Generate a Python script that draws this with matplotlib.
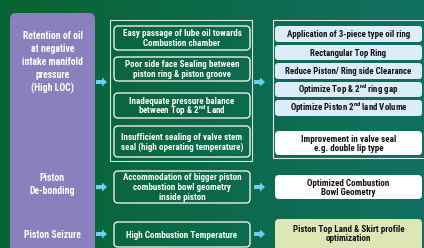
import numpy as np
import matplotlib
matplotlib.use("Agg")
import matplotlib.pyplot as plt
from matplotlib.patches import FancyBboxPatch, Rectangle, FancyArrow

FONT = ['Roboto Condensed', 'Barlow Semi Condensed', 'DejaVu Sans']
plt.rcParams['font.family'] = FONT
plt.rcParams['mathtext.fontset'] = 'custom'
plt.rcParams['mathtext.rm'] = 'Roboto Condensed:bold'

SUP = r'$^{\mathregular{nd}}$'

# failure modes (left column)
problems = ["Retention of oil\nat negative\nintake manifold\npressure\n(High LOC)",
            "Piston\nDe-bonding",
            "Piston Seizure"]
problem_y = [62, 184, 235]

# root causes (middle column)
causes = ["Easy passage of lube oil towards\nCombustion chamber",
          "Poor side face Sealing between\npiston ring & piston groove",
          "Inadequate pressure balance\nbetween Top & 2" + SUP + " Land",
          "Insufficient sealing of valve stem\nseal (high operating temperature)",
          "Accommodation of bigger piston\ncombustion bowl geometry\ninside piston",
          "High Combustion Temperature"]
cause_top = [26, 57, 93, 126, 171, 222]
cause_bot = [50, 81, 118, 157, 203, 247]

# countermeasures (right column)
actions = ["Application of 3-piece type oil ring",
           "Rectangular Top Ring",
           "Reduce Piston/ Ring side Clearance",
           "Optimize Top & 2" + SUP + " ring gap",
           "Optimize Piston 2" + SUP + " land Volume"]
action_top = [26, 45, 63, 82, 100]
action_bot = [42, 60, 79, 97, 116]

extra_actions = ["Improvement in valve seal\ne.g. double lip type",
                 "Optimized Combustion\nBowl Geometry",
                 "Piston Top Land & Skirt profile\noptimization"]
extra_top = [131, 175, 219]
extra_bot = [155, 199, 250]
extra_fill = ['white', 'white', '#dde7b6']

arrow_y = [82, 187, 234]

W, H = 424, 248
fig = plt.figure(figsize=(W / 100, H / 100), dpi=100)
ax = fig.add_axes([0, 0, 1, 1])
ax.set_xlim(0, W)
ax.set_ylim(H, 0)
ax.axis('off')


def draw_lines(x, yc, text, size, step, color):
    # one text per line so lines with superscripts keep even spacing
    lines = text.split('\n')
    cap = size * 100 / 72 * 0.711
    y = yc - (len(lines) - 1) / 2 * step + cap / 2
    for ln in lines:
        ax.text(x, y, ln, ha='center', va='baseline', color=color, fontsize=size,
                fontweight='bold', zorder=3)
        y += step


# background gradient: green on the left, teal on the right
c0 = np.array([0x07, 0x63, 0x31]) / 255
c1 = np.array([0x12, 0x70, 0x62]) / 255
t = np.linspace(0, 1, 200)
grad = c0[None, :] + (c1 - c0)[None, :] * t[:, None]
img = np.tile(grad[None, :, :], (20, 1, 1))
ax.imshow(img, extent=[0, W, H, 0], aspect='auto', zorder=0)

# purple column
ax.add_patch(FancyBboxPatch((10, 13), 85, 250, boxstyle="round,pad=0,rounding_size=6",
                            fc='#8a80be', ec='none', zorder=1))
for txt, y in zip(problems, problem_y):
    draw_lines(52.5, y, txt, 7.0, 13, 'white')

# outline frames
ax.add_patch(Rectangle((109.5, 19.5), 142, 141, fill=False, ec='#d8e8e0', lw=0.8, zorder=1))
ax.add_patch(Rectangle((272.5, 19.5), 160, 138, fill=False, ec='#d8e8e0', lw=0.8, zorder=1))

for txt, y0, y1 in zip(causes, cause_top, cause_bot):
    ax.add_patch(FancyBboxPatch((114, y0), 136, y1 - y0, boxstyle="round,pad=0,rounding_size=4",
                                fc='none', ec='white', lw=0.9, zorder=2))
    draw_lines(182, (y0 + y1) / 2, txt, 6.5, 9.9, 'white')

for txt, y0, y1 in zip(actions, action_top, action_bot):
    ax.add_patch(FancyBboxPatch((275, y0), 147, y1 - y0, boxstyle="round,pad=0,rounding_size=3",
                                fc='#dcecf8', ec='none', zorder=2))
    draw_lines(348.5, (y0 + y1) / 2, txt, 6.4, 9, '#111111')

for txt, y0, y1, fc in zip(extra_actions, extra_top, extra_bot, extra_fill):
    ax.add_patch(FancyBboxPatch((275, y0), 147, y1 - y0, boxstyle="round,pad=0,rounding_size=4",
                                fc=fc, ec='none', zorder=2))
    draw_lines(348.5, (y0 + min(y1, 247)) / 2, txt, 6.5, 9.2, '#111111')

for y in arrow_y:
    for x in (96, 254):
        ax.add_patch(FancyArrow(x, y, 11, 0, width=4, head_width=9, head_length=5,
                                length_includes_head=True, fc='#6ad0ee', ec='none', zorder=3))

fig.savefig('out.png', dpi=100)
